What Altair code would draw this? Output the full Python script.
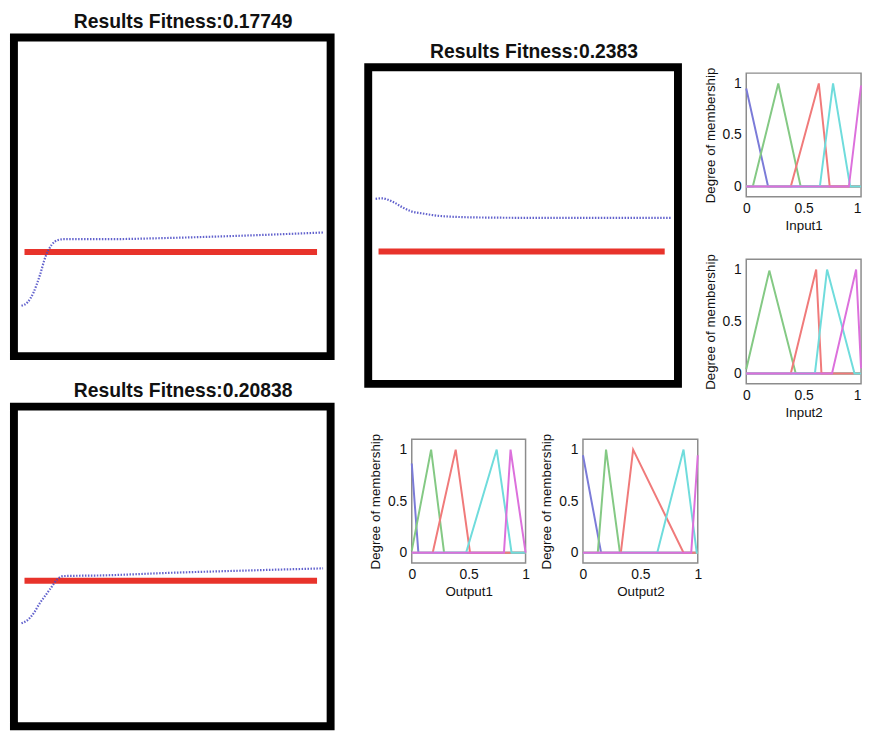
import altair as alt
import pandas as pd

FONT = "Liberation Sans"

# ---------------- big "Results Fitness" panels ----------------
p1_title = "Results Fitness:0.17749"
p1_t = [0, 2, 4, 6, 8, 10, 12, 14, 27, 49, 70, 100]
p1_out = [0.158, 0.169, 0.200, 0.251, 0.313, 0.349, 0.364, 0.367, 0.367, 0.371, 0.377, 0.388]
p1_target = 0.327

p2_title = "Results Fitness:0.2383"
p2_t = [0, 2, 6, 9, 12, 16, 20, 28, 39, 61, 100]
p2_out = [0.584, 0.586, 0.574, 0.558, 0.545, 0.538, 0.532, 0.527, 0.525, 0.524, 0.524]
p2_target = 0.418

p3_title = "Results Fitness:0.20838"
p3_t = [0, 2, 4, 6, 8, 10, 12, 14, 27, 49, 70, 100]
p3_out = [0.322, 0.332, 0.353, 0.384, 0.410, 0.436, 0.461, 0.470, 0.472, 0.480, 0.486, 0.494]
p3_target = 0.455

target_t = [1, 98]

# ---------------- membership functions ----------------
mf_names = ["mf1", "mf2", "mf3", "mf4", "mf5"]
mf_colors = ["#7b7bd8", "#84c984", "#f07a7a", "#6fdcdc", "#dc70dc"]
tick_values = [0, 0.5, 1]

input1_mfs = {
    "mf1": ([0, 0.19, 1], [0.95, 0, 0]),
    "mf2": ([0, 0.057, 0.279, 0.474, 1], [0, 0, 1, 0, 0]),
    "mf3": ([0, 0.388, 0.632, 0.727, 1], [0, 0, 1, 0, 0]),
    "mf4": ([0, 0.641, 0.756, 0.905, 1], [0, 0, 1, 0, 0]),
    "mf5": ([0, 0.894, 1.0], [0, 0, 0.98]),
}
input2_mfs = {
    "mf1": ([0, 1], [0, 0]),
    "mf2": ([0, 0.201, 0.431, 1], [0.04, 0.99, 0, 0]),
    "mf3": ([0, 0.388, 0.609, 0.655, 1], [0, 0, 1, 0, 0]),
    "mf4": ([0, 0.598, 0.704, 0.943, 1], [0, 0, 1, 0, 0]),
    "mf5": ([0, 0.747, 0.957, 1.0], [0, 0, 1, 0.05]),
}
output1_mfs = {
    "mf1": ([0, 0.058, 1], [0.865, 0, 0]),
    "mf2": ([0, 0.17, 0.284, 1], [0.02, 1, 0, 0]),
    "mf3": ([0, 0.184, 0.386, 0.512, 1], [0, 0, 1, 0, 0]),
    "mf4": ([0, 0.477, 0.746, 0.877, 1], [0, 0, 1, 0, 0]),
    "mf5": ([0, 0.810, 0.868, 1.0], [0, 0, 1, 0]),
}
output2_mfs = {
    "mf1": ([0, 0.158, 1], [0.945, 0, 0]),
    "mf2": ([0, 0.129, 0.201, 0.322, 1], [0, 0, 1, 0, 0]),
    "mf3": ([0, 0.330, 0.437, 0.876, 1], [0, 0, 1, 0, 0]),
    "mf4": ([0, 0.647, 0.876, 0.991, 1], [0, 0, 1, 0, 0]),
    "mf5": ([0, 0.943, 1.0], [0, 0, 0.945]),
}


def big_panel(title, ts, outs, target, w, h):
    curve = pd.DataFrame({"t": ts, "v": outs})
    tgt = pd.DataFrame({"t": target_t, "v": [target] * len(target_t)})
    xs = alt.Scale(domain=[-2.5, 102.5], nice=False)
    ys = alt.Scale(domain=[0, 1], nice=False)
    red = alt.Chart(tgt).mark_line(color="#e8332b", strokeWidth=6, strokeCap="butt").encode(
        x=alt.X("t:Q", scale=xs, axis=None), y=alt.Y("v:Q", scale=ys, axis=None))
    blue = alt.Chart(curve).mark_line(color="#4646c4", strokeWidth=2.2, strokeDash=[1.5, 1.5],
                                      interpolate="monotone", opacity=0.85).encode(
        x=alt.X("t:Q", scale=xs, axis=None), y=alt.Y("v:Q", scale=ys, axis=None))
    return alt.layer(red, blue).properties(
        width=w, height=h,
        title=alt.TitleParams(title, font=FONT, fontSize=19.5, fontWeight="bold", color="#111",
                              dx=11, offset=5, anchor="middle"),
        view=alt.ViewBackground(stroke="black", strokeWidth=8, fill="white"),
    )


def mf_panel(mfs, xtitle, w, h, flush_right=False):
    rows = []
    for name in mf_names:
        xs, ys = mfs[name]
        for i, (x, y) in enumerate(zip(xs, ys)):
            rows.append({"mf": name, "x": x, "y": y, "i": i})
    df = pd.DataFrame(rows)
    axis_common = dict(values=tick_values, format="~g", grid=False, domain=False, ticks=False,
                       labelFlush=False, labelFont=FONT, labelFontSize=14, labelColor="#111",
                       titleFont=FONT, titleFontSize=13.5, titleFontWeight="normal", titleColor="#111")
    x_extra = {}
    if flush_right:
        x_extra["labelAlign"] = {"condition": {"test": "datum.value >= 1", "value": "right"},
                                 "value": "center"}
    return alt.Chart(df).mark_line(strokeWidth=2).encode(
        x=alt.X("x:Q", scale=alt.Scale(domain=[0, 1], nice=False),
                axis=alt.Axis(title=xtitle, labelPadding=5, titlePadding=3, **axis_common, **x_extra)),
        y=alt.Y("y:Q", scale=alt.Scale(domain=[-0.1, 1.1], nice=False),
                axis=alt.Axis(title="Degree of membership", labelPadding=5, titlePadding=5, **axis_common)),
        color=alt.Color("mf:N", scale=alt.Scale(domain=mf_names, range=mf_colors), legend=None),
        order=alt.Order("i:Q"),
    ).properties(width=w, height=h,
                 view=alt.ViewBackground(stroke="#8c8c8c", strokeWidth=1.5, fill="white"))


def spacer(w, h):
    return alt.Chart(pd.DataFrame({"s": [0]})).mark_point(opacity=0, size=0).encode(
        x=alt.value(0), y=alt.value(0)
    ).properties(width=w, height=h,
                 view=alt.ViewBackground(stroke="transparent", strokeWidth=0, fill="transparent"))


p1 = big_panel(p1_title, p1_t, p1_out, p1_target, 320, 322)
p3 = big_panel(p3_title, p3_t, p3_out, p3_target, 320, 323)
p2 = big_panel(p2_title, p2_t, p2_out, p2_target, 313, 320)

in1 = mf_panel(input1_mfs, "Input1", 116, 125, flush_right=True)
in2 = mf_panel(input2_mfs, "Input2", 116, 126, flush_right=True)
out1 = mf_panel(output1_mfs, "Output1", 115, 125)
out2 = mf_panel(output2_mfs, "Output2", 116, 125)

col_a = alt.vconcat(p1, p3, spacing=17)

col_in = alt.vconcat(spacer(1, 1), alt.vconcat(in1, in2, spacing=19), spacing=-2)
row_b1 = alt.hconcat(p2, col_in, spacing=20)
row_b2 = alt.hconcat(spacer(1, 1), alt.hconcat(out1, out2, spacing=8), spacing=-2)
inner_b = alt.vconcat(row_b1, row_b2, spacing=12)
col_b = alt.vconcat(spacer(1, 1), inner_b, spacing=-1)

chart = alt.hconcat(col_a, col_b, spacing=28).properties(
    padding={"left": 0, "top": -4, "right": 0, "bottom": 0},
    background="white",
)

chart.save("out.html", embed_options={"renderer": "svg", "actions": False})
